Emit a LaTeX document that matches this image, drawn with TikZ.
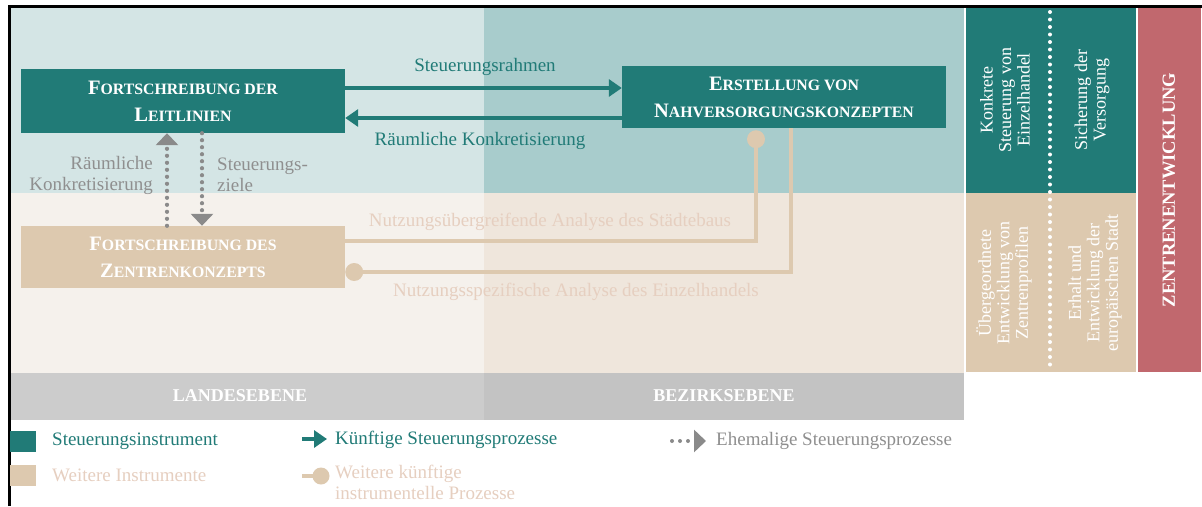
\documentclass[tikz,border=0pt]{standalone}
\usepackage{fontspec}
\setmainfont{Liberation Serif}
\usetikzlibrary{arrows.meta,calc}
\definecolor{tealD}{HTML}{217B77}
\definecolor{bgTL}{HTML}{D4E5E5}
\definecolor{bgTR}{HTML}{A8CCCC}
\definecolor{bgBL}{HTML}{F5F1EC}
\definecolor{bgBR}{HTML}{EFE6DC}
\definecolor{beigeN}{HTML}{DDC9AF}
\definecolor{beigeT}{HTML}{E6CFC0}
\definecolor{grayL}{HTML}{CCCCCC}
\definecolor{grayR}{HTML}{C3C3C3}
\definecolor{redC}{HTML}{C1686E}
\definecolor{dotG}{HTML}{8A8A8A}
\definecolor{txtG}{HTML}{8F8F8F}
\newcommand\SmCp[2]{{\fontsize{20.5}{27}\selectfont #1}{\fontsize{15.8}{27}\selectfont #2}}
\begin{document}
\begin{tikzpicture}[x=1pt,y=-1pt,
  instr/.style={fill=tealD, minimum width=324pt, inner sep=0pt, text=white, align=center, font=\bfseries\fontsize{20}{27}\selectfont},
  further/.style={fill=beigeN, minimum width=324pt, inner sep=0pt, text=white, align=center, font=\bfseries\fontsize{20}{27}\selectfont},
  tealarrow/.style={draw=tealD, line width=4pt, -{Triangle[length=13pt,width=17pt]}},
  dotarrow/.style={draw=dotG, line width=4.2pt, line cap=round, dash pattern=on 0pt off 7pt, -{Triangle[length=12pt,width=22pt]}},
  beigeline/.style={draw=beigeN, line width=4pt},
  ball/.style={circle, fill=beigeN, inner sep=0pt, minimum size=18pt},
  lbl/.style={font=\fontsize{19}{21}\selectfont, inner sep=0pt},
  coltxt/.style={rotate=90, align=center, text=white, inner sep=0pt, font=\fontsize{18}{18.5}\selectfont},
  band/.style={text=white, inner sep=0pt, font=\bfseries\fontsize{18}{20}\selectfont}
]
\useasboundingbox (0,0) rectangle (1202,506);
\fill[white] (0,0) rectangle (1202,506);
% backgrounds
\fill[bgTL] (10,7) rectangle (484,193);
\fill[bgTR] (484,7) rectangle (964,193);
\fill[bgBL] (10,193) rectangle (484,373);
\fill[bgBR] (484,193) rectangle (964,373);
\fill[grayL] (10,373) rectangle (484,420);
\fill[grayR] (484,373) rectangle (964,420);
\fill[tealD] (966,7) rectangle (1136,193);
\fill[beigeN] (966,193) rectangle (1136,372);
\fill[redC] (1138,7) rectangle (1201,372);
\draw[white, line width=4pt, dash pattern=on 0pt off 7.5pt, line cap=round] (1050,12) -- (1050,372);
\draw[black, line width=3pt] (9,506) -- (9,6) -- (1202,6);

% column texts
\node[coltxt] (c1) at (1005,100) {Konkrete\\Steuerung von\\Einzelhandel};
\node[coltxt] (c2) at (1092,100) {Sicherung der\\Versorgung};
\node[coltxt] (c3) at (1004,283) {Übergeordnete\\Entwicklung von\\Zentrenprofilen};
\node[coltxt] (c4) at (1095,283) {Erhalt und\\Entwicklung der\\europäischen Stadt};
\node[rotate=90, text=white, inner sep=0pt, font=\bfseries\fontsize{18.5}{20}\selectfont] (zt) at (1169,190) {ZENTRENENTWICKLUNG};

% band labels
\node[band] (land) at (240,396) {LANDESEBENE};
\node[band] (bez) at (724,396) {BEZIRKSEBENE};

% main nodes
\node[instr, minimum height=64pt] (L) at (183,101) {\SmCp{F}{ORTSCHREIBUNG DER}\\\SmCp{L}{EITLINIEN}};
\node[instr, minimum height=62pt] (E) at (784,97) {\SmCp{E}{RSTELLUNG VON}\\\SmCp{N}{AHVERSORGUNGSKONZEPTEN}};
\node[further, minimum height=62pt] (Z) at (183,257) {\SmCp{F}{ORTSCHREIBUNG DES}\\\SmCp{Z}{ENTRENKONZEPTS}};

% teal arrows
\coordinate (a1) at ($(L.east)+(0,-13)$);
\draw[tealarrow] (a1) -- (a1 -| E.west);
\coordinate (a2) at ($(E.west)+(0,21)$);
\draw[tealarrow] (a2) -- (a2 -| L.east);
\node[lbl, text=tealD] (t1) at (485,67) {Steuerungsrahmen};
\node[lbl, text=tealD] (t2) at (480,141) {Räumliche Konkretisierung};

% dotted arrows
\draw[dotarrow] ($(Z.north)+(-16,0)$) -- ($(L.south)+(-16,0)$);
\draw[dotarrow] ($(L.south)+(19,0)$) -- ($(Z.north)+(19,0)$);
\node[lbl, text=txtG, align=right, anchor=east] (t3) at (153,175) {Räumliche\\Konkretisierung};
\node[lbl, text=txtG, align=left, anchor=west] (t4) at (217,175) {Steuerungs-\\ziele};

% beige connectors
\coordinate (b1) at ($(Z.east)+(0,-16)$);
\node[ball] (k1) at ($(E.south)+(-28,11)$) {};
\draw[beigeline] (b1) -| (k1.center);
\coordinate (b2) at ($(E.south)+(7,0)$);
\node[ball] (k2) at ($(Z.east)+(9,15)$) {};
\draw[beigeline] (b2) |- (k2.center);
\node[lbl, text=beigeT] (t5) at (550,222) {Nutzungsübergreifende Analyse des Städtebaus};
\node[lbl, text=beigeT] (t6) at (576,292) {Nutzungsspezifische Analyse des Einzelhandels};

% legend
\fill[tealD] (10,431) rectangle (36,452);
\fill[beigeN] (10,465) rectangle (36,486);
\node[lbl, text=tealD, anchor=west] (g1) at (52,441) {Steuerungsinstrument};
\node[lbl, text=beigeT, anchor=west] (g2) at (52,475) {Weitere Instrumente};
\coordinate (la1) at (302,439);
\coordinate (la2) at (327,439);
\draw[tealarrow] (la1) -- (la2);
\node[lbl, text=tealD, anchor=west] (g3) at (335,440) {Künftige Steuerungsprozesse};
\coordinate (lb1) at (302,476);
\node[ball, minimum size=17pt] (lk) at (321,476) {};
\draw[beigeline] (lb1) -- (lk.center);
\node[lbl, text=beigeT, anchor=north west, align=left] (g4) at (335,465) {Weitere künftige\\instrumentelle Prozesse};
\coordinate (lc1) at (672,441);
\coordinate (lc2) at (706,441);
\draw[dotarrow, line width=4pt, dash pattern=on 0pt off 8pt] (lc1) -- (lc2);
\node[lbl, text=txtG, anchor=west] (g5) at (716,441) {Ehemalige Steuerungsprozesse};
\end{tikzpicture}
\end{document}
